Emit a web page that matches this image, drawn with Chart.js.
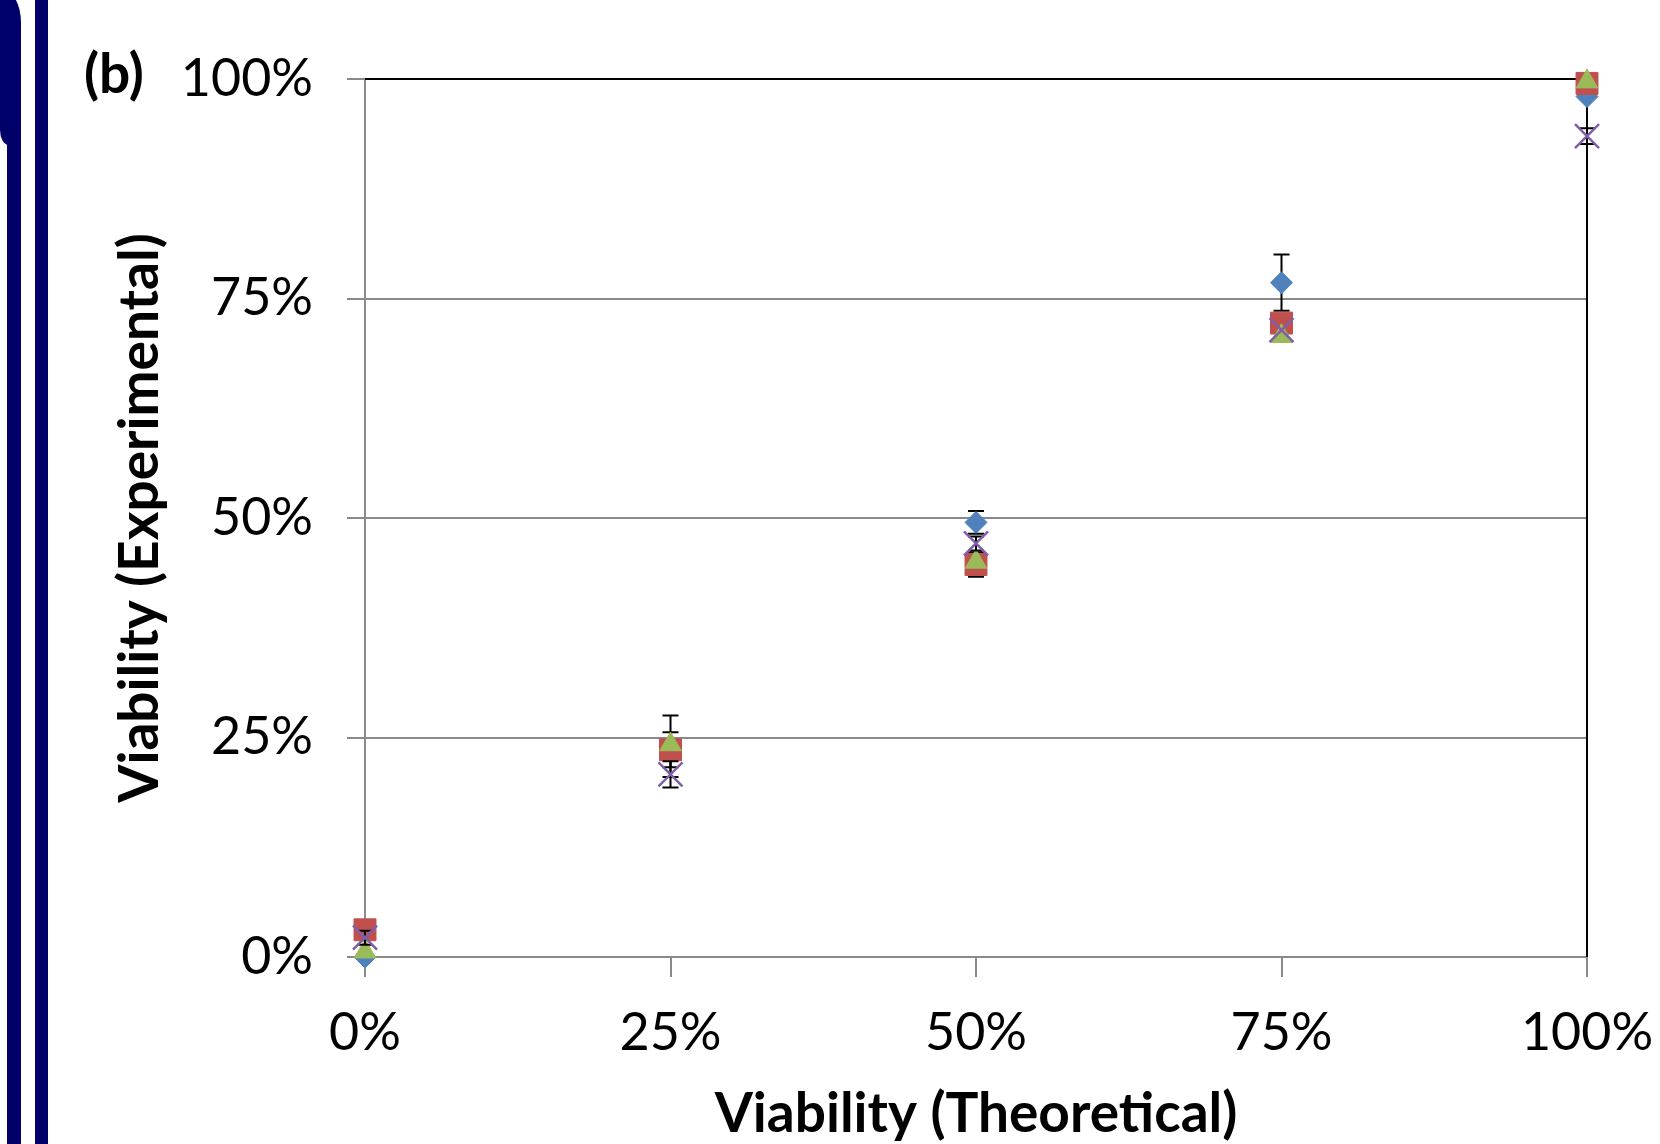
<!DOCTYPE html>
<html><head><meta charset="utf-8">
<script src="https://cdn.jsdelivr.net/npm/chart.js@4/dist/chart.umd.min.js"></script>
<style>
html,body{margin:0;padding:0;background:#fff;}
#wrap{position:relative;width:1660px;height:1144px;overflow:hidden;background:#fff;}
#c{position:absolute;left:0;top:0;}
.navy{position:absolute;background:#00006b;}
</style></head><body>
<div id="wrap">
<canvas id="c" width="1660" height="1144"></canvas>
<div class="navy" style="left:0;top:-12px;width:21px;height:157px;border-radius:0 22px 0 9px / 0 36px 0 16px;"></div>
<div class="navy" style="left:7px;top:100px;width:14px;height:1100px;"></div>
<div class="navy" style="left:35px;top:0;width:13px;height:1144px;"></div>
</div>
<script>
// ---- data ----
const xValues = [0, 0.25, 0.5, 0.75, 1];
const blueValues = [0.0, 0.24, 0.495, 0.768, 0.98];
const redValues = [0.031, 0.236, 0.447, 0.722, 0.995];
const greenValues = [0.006, 0.242, 0.45, 0.707, 0.997];
const purpleValues = [0.022, 0.208, 0.471, 0.714, 0.935];
const blueErrors = [0, 0.035, 0.013, 0.032, 0];
const redErrors = [0, 0.02, 0.014, 0, 0];
const greenErrors = [0, 0, 0, 0, 0];
const purpleErrors = [0.008, 0.015, 0.008, 0, 0.009];
const tickValues = [0, 0.25, 0.5, 0.75, 1];
const xTitle = 'Viability (Theoretical)';
const yTitle = 'Viability (Experimental)';
const panelLabel = '(b)';

const pts = vals => xValues.map((x, i) => ({x: x, y: vals[i]}));
const pct = v => Math.round(v * 100) + '%';

const errorBars = {
  id: 'errorBars',
  beforeDatasetDraw(chart, args) {
    const ds = chart.data.datasets[args.index];
    const errs = ds.errors;
    if (!errs) return;
    const xs = chart.scales.x, ys = chart.scales.y, ctx = chart.ctx;
    ctx.save();
    ctx.strokeStyle = '#000';
    ctx.lineWidth = 2;
    ds.data.forEach((p, i) => {
      const e = errs[i];
      if (!e) return;
      const px = xs.getPixelForValue(p.x);
      const y1 = ys.getPixelForValue(p.y + e);
      const y2 = ys.getPixelForValue(p.y - e);
      ctx.beginPath();
      ctx.moveTo(px, y1); ctx.lineTo(px, y2);
      ctx.moveTo(px - 8, y1); ctx.lineTo(px + 8, y1);
      ctx.moveTo(px - 8, y2); ctx.lineTo(px + 8, y2);
      ctx.stroke();
    });
    ctx.restore();
  }
};

const frame = {
  id: 'frame',
  beforeDatasetsDraw(chart) {
    const a = chart.chartArea, ctx = chart.ctx;
    ctx.save();
    ctx.strokeStyle = '#000';
    ctx.lineWidth = 2;
    ctx.beginPath();
    ctx.moveTo(a.left, a.top);
    ctx.lineTo(a.right, a.top);
    ctx.lineTo(a.right, a.bottom);
    ctx.stroke();
    ctx.restore();
  }
};

const titles = {
  id: 'titles',
  afterDraw(chart) {
    const ctx = chart.ctx, a = chart.chartArea;
    ctx.save();
    ctx.fillStyle = '#000';
    ctx.font = 'bold 55px Lato';
    ctx.textBaseline = 'alphabetic';
    ctx.textAlign = 'center';
    ctx.fillText(xTitle, (a.left + a.right) / 2, 1132);
    ctx.save();
    ctx.translate(158, (a.top + a.bottom) / 2);
    ctx.rotate(-Math.PI / 2);
    ctx.fillText(yTitle, 0, 0);
    ctx.restore();
    ctx.textAlign = 'left';
    ctx.fillText(panelLabel, 84, 93);
    ctx.restore();
  }
};

const gridColor = '#8a8a8a';
new Chart(document.getElementById('c'), {
  type: 'scatter',
  data: {
    datasets: [
      {label: 'A', data: pts(blueValues), errors: blueErrors, pointStyle: 'rectRot', pointRadius: 11,
       backgroundColor: '#4F81BD', borderColor: '#4F81BD', borderWidth: 1, order: 3, clip: false},
      {label: 'B', data: pts(redValues), errors: redErrors, pointStyle: 'rect', pointRadius: 15.5,
       backgroundColor: '#C0504D', borderColor: '#C0504D', borderWidth: 1, order: 2, clip: false},
      {label: 'C', data: pts(greenValues), errors: greenErrors, pointStyle: 'triangle', pointRadius: 12.5,
       backgroundColor: '#9BBB59', borderColor: '#9BBB59', borderWidth: 1, order: 1, clip: false},
      {label: 'D', data: pts(purpleValues), errors: purpleErrors, pointStyle: 'crossRot', pointRadius: 17,
       backgroundColor: '#7F5FA8', borderColor: '#7F5FA8', borderWidth: 2.5, order: 0, clip: false}
    ]
  },
  options: {
    responsive: false,
    animation: false,
    events: [],
    devicePixelRatio: 1,
    layout: {padding: {left: 0, right: 73, top: 79, bottom: 0}},
    plugins: {legend: {display: false}, tooltip: {enabled: false}},
    scales: {
      x: {
        type: 'linear', min: 0, max: 1,
        afterBuildTicks: s => { s.ticks = tickValues.map(v => ({value: v})); },
        afterFit: s => { s.height = 187; s.paddingLeft = 0; s.paddingRight = 0; },
        ticks: {callback: v => pct(v), color: '#000', font: {family: 'Lato', size: 52}, padding: 25, maxRotation: 0},
        grid: {drawOnChartArea: false, drawTicks: true, tickLength: 20, color: gridColor, lineWidth: 2},
        border: {display: true, color: gridColor, width: 2}
      },
      y: {
        type: 'linear', min: 0, max: 1,
        afterBuildTicks: s => { s.ticks = tickValues.map(v => ({value: v})); },
        afterFit: s => { s.width = 365; s.paddingTop = 0; s.paddingBottom = 0; },
        ticks: {callback: v => pct(v), color: '#000', font: {family: 'Lato', size: 52}, padding: 34},
        grid: {drawOnChartArea: true, drawTicks: true, tickLength: 18, color: gridColor, lineWidth: 2},
        border: {display: true, color: gridColor, width: 2}
      }
    }
  },
  plugins: [errorBars, frame, titles]
});
</script>
</body></html>
